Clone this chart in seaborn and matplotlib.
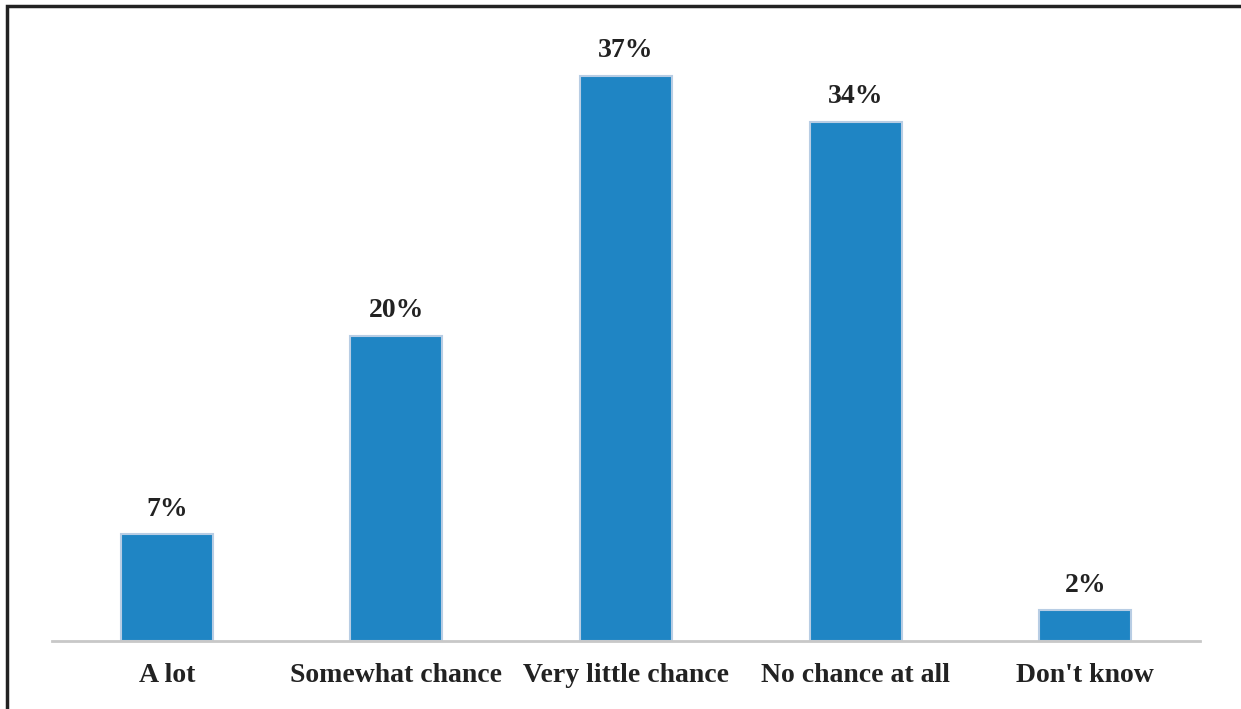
import matplotlib
matplotlib.use("Agg")
import matplotlib.pyplot as plt
import seaborn as sns
import pandas as pd
from matplotlib.patches import Rectangle

categories = ["A lot", "Somewhat chance", "Very little chance", "No chance at all", "Don't know"]
values = [7, 20, 37, 34, 2]
labels = ["7%", "20%", "37%", "34%", "2%"]

sns.set_theme(style="white")
plt.rcParams['font.family'] = ['Liberation Serif', 'DejaVu Serif']

df = pd.DataFrame({"cat": categories, "val": values})

fig = plt.figure(figsize=(12.41, 7.09), dpi=100)
ax = fig.add_axes([52/1241, (709-641)/709, 1148/1241, 611/709])

sns.barplot(data=df, x="cat", y="val", color="#1f85c4", saturation=1, width=0.4,
            edgecolor="#b8cde4", linewidth=1.5, ax=ax)

for p, lab in zip(ax.patches, labels):
    ax.annotate(lab, (p.get_x() + p.get_width()/2, p.get_height()),
                xytext=(0, 9), textcoords="offset points",
                ha="center", va="bottom", fontsize=20, fontweight="bold", color="#222222")

ax.set_xlim(-0.5, 4.5)
ax.set_ylim(0, 40)
ax.set_xlabel("")
ax.set_ylabel("")
ax.set_yticks([])
for s in ["top", "right", "left"]:
    ax.spines[s].set_visible(False)
ax.spines["bottom"].set_color("#c8c8c8")
ax.spines["bottom"].set_linewidth(2)
ax.tick_params(axis="x", length=0, pad=16, labelsize=20, colors="#222222")
for t in ax.get_xticklabels():
    t.set_fontweight("bold")

# figure border (top and left visible)
fig.add_artist(Rectangle((7/1241, -0.05), 1.1, (709-6)/709 + 0.05, transform=fig.transFigure,
                         fill=False, edgecolor="#222222", linewidth=2.5))

fig.savefig("out.png", dpi=100)
